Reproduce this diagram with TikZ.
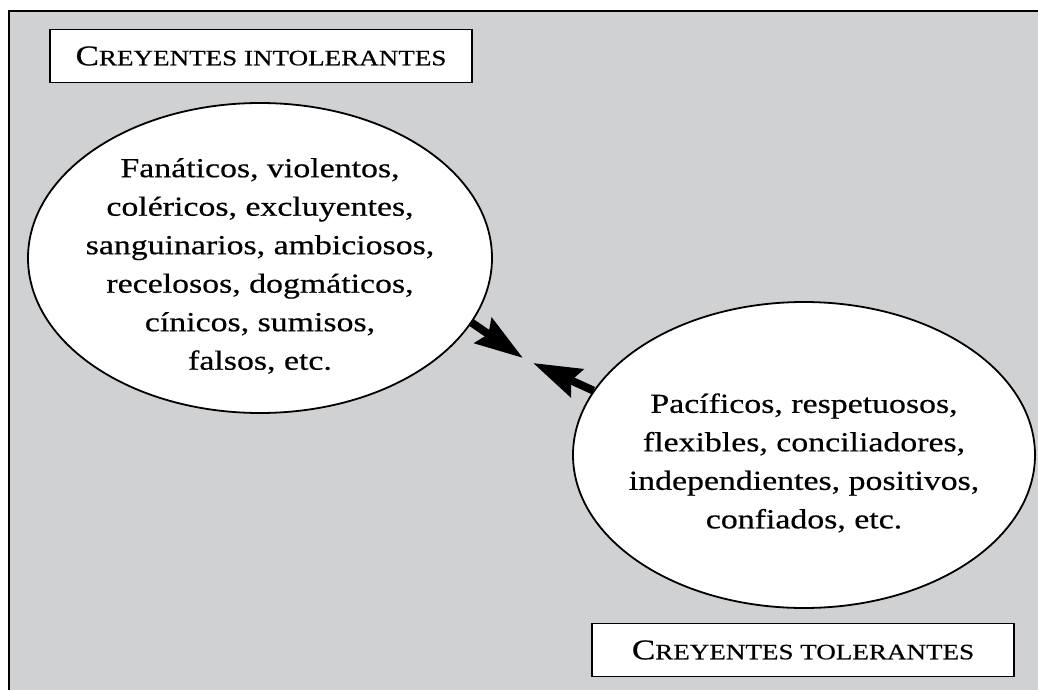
\documentclass[tikz,border=0pt]{standalone}
\usepackage{fontspec}
\setmainfont{Liberation Serif}[FakeStretch=1.23,FakeBold=0.5]
\usetikzlibrary{shapes,arrows.meta}
\definecolor{fondo}{RGB}{208,209,211}
\newcommand{\versalitas}[2]{{\fontsize{28.5pt}{30pt}\selectfont #1}{\fontsize{22pt}{30pt}\selectfont #2}}

\begin{document}
\begin{tikzpicture}[x=1pt,y=1pt]
				\tikzset{grupo/.style={
						ellipse,
						draw,
						line width=1.8pt,
						fill=white,
						inner sep=0pt},
					rotulo/.style={
						draw,
						line width=1.8pt,
						fill=white,
						minimum width=422pt,
						minimum height=53pt,
						inner sep=0pt},
					rasgos/.style={
						align=center,
						yshift=-8pt,
						font=\fontsize{27.5pt}{38.5pt}\selectfont},
					flecha/.style={
						-{Stealth[length=48pt,width=30pt,inset=6pt]},
						line width=8pt}
				}
				\useasboundingbox (0,0) rectangle (1038,689);
				
				%% FONDO
				\draw[fill=fondo, line width=2pt] (9,678) rectangle (1050,-12);
				
				%% GRUPOS
				\node[grupo, minimum width=464pt, minimum height=310pt,
					label={[rasgos]center:Fanáticos, violentos,\\coléricos, excluyentes,\\sanguinarios, ambiciosos,\\recelosos, dogmáticos,\\cínicos, sumisos,\\falsos, etc.}] (Intol) at (260,431) {};
				\node[grupo, minimum width=462pt, minimum height=306pt,
					label={[rasgos]center:Pacíficos, respetuosos,\\flexibles, conciliadores,\\independientes, positivos,\\confiados, etc.}] (Tol) at (804,234) {};
				
				\node[rotulo] (IntolTit) at (261,633) {\versalitas{C}{REYENTES INTOLERANTES}};
				\node[rotulo] (TolTit) at (803,39) {\versalitas{C}{REYENTES TOLERANTES}};
				
				\coordinate (PuntaA) at (523,331);
				\coordinate (PuntaB) at (533,326);
				\draw[flecha] (Intol.-17) -- (PuntaA);
				\draw[flecha] (Tol.163) -- (PuntaB);
				
			\end{tikzpicture}
\end{document}
